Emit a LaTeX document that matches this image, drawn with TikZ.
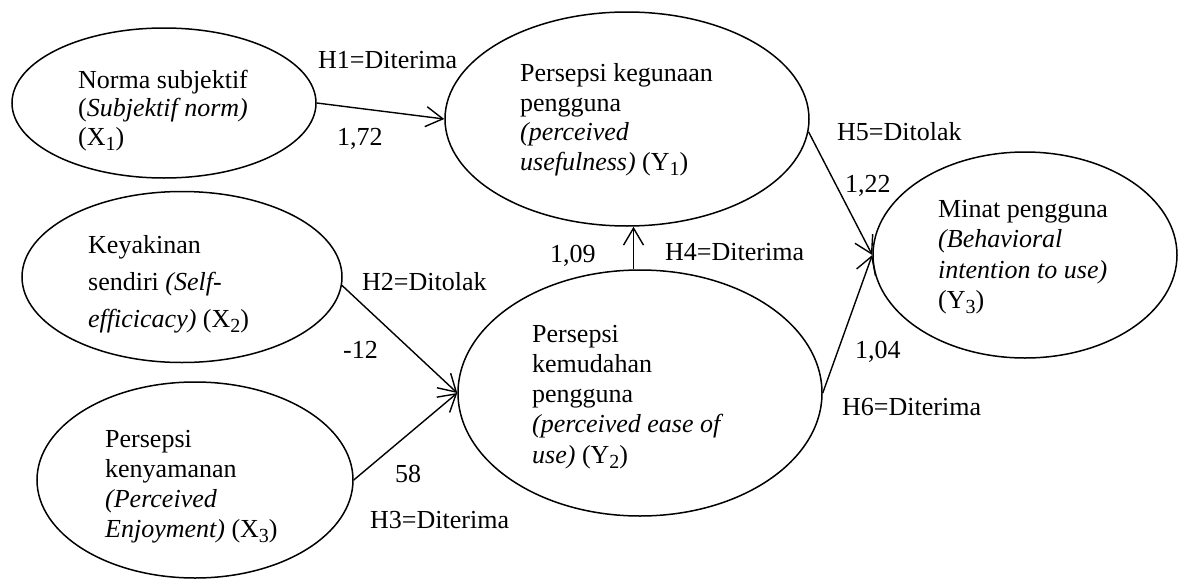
\documentclass[tikz,border=0pt]{standalone}
\usepackage{fontspec}
\setmainfont{Liberation Serif}
\usetikzlibrary{arrows.meta,shapes.geometric,calc}

% lowered index digit, e.g. X_1
\newcommand\idx[1]{\raisebox{-5.5pt}{\fontsize{20}{20}\selectfont #1}}

\tikzset{
  construct/.style={draw, ellipse, line width=1.5pt, inner sep=0pt},
  blocktext/.style={align=left, inner sep=0pt, anchor=north west,
                    font=\fontsize{26}{#1}\selectfont},
  pathlabel/.style={inner sep=0pt, anchor=base west, font=\fontsize{26}{30}\selectfont},
  path/.style={line width=1.4pt, -{Straight Barb[length=17pt,width=20pt,line width=1.4pt]}},
}

\begin{document}
\begin{tikzpicture}[x=1pt, y=-1pt]
  \useasboundingbox (0,0) rectangle (1184,581);

  % constructs
  \node[construct, minimum width=304pt, minimum height=150pt] (X1) at (164,103) {};
  \node[construct, minimum width=320pt, minimum height=171pt] (X2) at (182,277) {};
  \node[construct, minimum width=316pt, minimum height=196pt] (X3) at (195,480) {};
  \node[construct, minimum width=364pt, minimum height=214pt] (Y1) at (627,119) {};
  \node[construct, minimum width=364pt, minimum height=246pt] (Y2) at (640,393) {};
  \node[construct, minimum width=304pt, minimum height=206pt] (Y3) at (1025,255) {};

  % construct labels
  \node[blocktext=28.5] (X1t) at (78,68) {\strut Norma subjektif\\ \strut(\textit{Subjektif norm)}\\ \strut(X\idx{1})};
  \node[blocktext=37] (X2t) at (88,227) {\strut Keyakinan\\ \strut sendiri \textit{(Self-}\\ \strut\textit{efficicacy)} (X\idx{2})};
  \node[blocktext=29.7] (X3t) at (105,427) {\strut Persepsi\\ \strut kenyamanan\\ \strut\textit{(Perceived}\\ \strut\textit{Enjoyment)} (X\idx{3})};
  \node[blocktext=29.5] (Y1t) at (520,61) {\strut Persepsi kegunaan\\ \strut pengguna\\ \strut\textit{(perceived}\\ \strut\textit{usefulness)} (Y\idx{1})};
  \node[blocktext=30.2] (Y2t) at (532,321) {\strut Persepsi\\ \strut kemudahan\\ \strut pengguna\\ \strut\textit{(perceived ease of}\\ \strut\textit{use)} (Y\idx{2})};
  \node[blocktext=30.3] (Y3t) at (938,196) {\strut Minat pengguna\\ \strut\textit{(Behavioral}\\ \strut\textit{intention to use)}\\ \strut(Y\idx{3})};

  % paths
  \draw[path] (X1.east) -- (Y1.west);
  \draw[path] (X2.-3) -- (Y2.west);
  \draw[path] (X3.east) -- (Y2.west);
  \coordinate (mid) at ($(Y1.south)!0.5!(Y2.north)$);
  \draw[path] (mid |- Y2.north) -- (mid |- Y1.south);
  \draw[path] (Y1.-4) -- (Y3.west);
  \draw[path] (Y2.east) -- (Y3.west);

  % coefficients and hypothesis results
  \node[pathlabel] (h1) at (318,68) {H1=Diterima};
  \node[pathlabel] (c1) at (337,145) {1,72};
  \node[pathlabel] (h2) at (362,290) {H2=Ditolak};
  \node[pathlabel] (c2) at (343,358) {-12};
  \node[pathlabel] (c3) at (395,482) {58};
  \node[pathlabel] (h3) at (370,528) {H3=Diterima};
  \node[pathlabel] (c4) at (550,262) {1,09};
  \node[pathlabel] (h4) at (665,260) {H4=Diterima};
  \node[pathlabel] (h5) at (837,140) {H5=Ditolak};
  \node[pathlabel] (c5) at (845,192) {1,22};
  \node[pathlabel] (c6) at (855,358) {1,04};
  \node[pathlabel] (h6) at (842,415) {H6=Diterima};
\end{tikzpicture}
\end{document}
